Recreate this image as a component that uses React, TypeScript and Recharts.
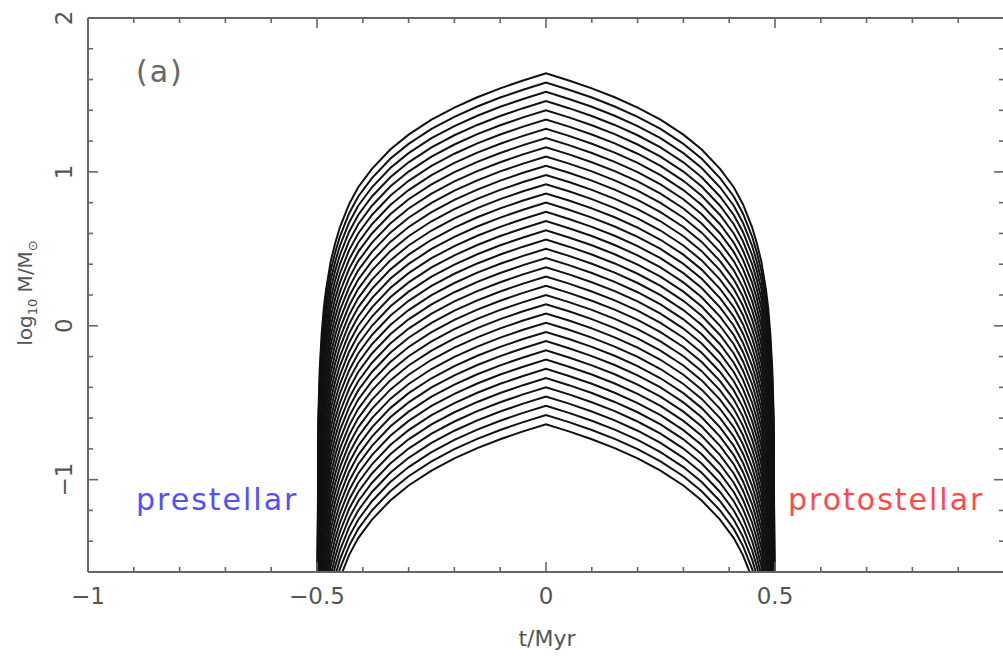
import React from "react";
import { LineChart, Line, XAxis, YAxis } from "recharts";

// peak log10 mass (at t = 0) of each track, top to bottom
const peaks = [
  1.64, 1.58, 1.52, 1.46, 1.4, 1.34, 1.28, 1.22, 1.16, 1.1,
  1.04, 0.98, 0.92, 0.86, 0.8, 0.74, 0.68, 0.62, 0.56, 0.5,
  0.44, 0.38, 0.32, 0.26, 0.2, 0.14, 0.08, 0.02, -0.04, -0.1,
  -0.16, -0.22, -0.28, -0.34, -0.4, -0.46, -0.52, -0.58, -0.64,
];

// |t| in Myr and the drop of log10 M below the peak at that time
const profileT = [
  0, 0.05, 0.1, 0.15, 0.2, 0.25, 0.3, 0.34, 0.38, 0.41,
  0.43, 0.45, 0.46, 0.47, 0.48, 0.485, 0.49, 0.494, 0.497, 0.5,
];
const profileDrop = [
  0, -0.046, -0.097, -0.155, -0.222, -0.301, -0.398, -0.495, -0.62, -0.74,
  -0.85, -1.0, -1.1, -1.22, -1.4, -1.52, -1.7, -1.92, -2.22, -4.0,
];

const xTicks = [
  -1, -0.9, -0.8, -0.7, -0.6, -0.5, -0.4, -0.3, -0.2, -0.1,
  0, 0.1, 0.2, 0.3, 0.4, 0.5, 0.6, 0.7, 0.8, 0.9, 1,
];
const xLabels = [-1, -0.5, 0, 0.5];
const yTicks = [
  -1.6, -1.4, -1.2, -1, -0.8, -0.6, -0.4, -0.2, 0,
  0.2, 0.4, 0.6, 0.8, 1, 1.2, 1.4, 1.6, 1.8, 2,
];

// mirror the profile to cover -0.5 .. 0.5
const rows: { t: number; drop: number }[] = [];
for (let i = profileT.length - 1; i > 0; i--) rows.push({ t: -profileT[i], drop: profileDrop[i] });
for (let i = 0; i < profileT.length; i++) rows.push({ t: profileT[i], drop: profileDrop[i] });

const data = rows.map((r) => {
  const row: Record<string, number> = { t: r.t };
  peaks.forEach((p, k) => {
    row["m" + k] = p + r.drop;
  });
  return row;
});

const AXIS = "#666";
const TEXT = "#555";
const FONT = "'DejaVu Sans', sans-serif";

const fmt = (v: number) => (v < 0 ? "\u2212" + String(-v) : String(v));
const isStep = (v: number, step: number) =>
  Math.abs(v / step - Math.round(v / step)) < 1e-6;

function BottomTick(props: any) {
  const { x, y, payload } = props;
  const v = payload.value;
  const major = isStep(v, 0.5);
  const labelled = xLabels.some((l) => Math.abs(l - v) < 1e-6);
  return (
    <g>
      <line x1={x} x2={x} y1={y} y2={y - (major ? 10 : 5)} stroke={AXIS} strokeWidth={1.6} />
      {labelled && (
        <text x={x} y={y + 32} textAnchor="middle" fontSize={23} fill={TEXT} fontFamily={FONT}>
          {fmt(v)}
        </text>
      )}
    </g>
  );
}

function TopTick(props: any) {
  const { x, y, payload } = props;
  const major = isStep(payload.value, 0.5);
  return <line x1={x} x2={x} y1={y} y2={y + (major ? 10 : 5)} stroke={AXIS} strokeWidth={1.6} />;
}

function LeftTick(props: any) {
  const { x, y, payload } = props;
  const v = payload.value;
  const major = isStep(v, 1);
  return (
    <g>
      <line x1={x} x2={x + (major ? 10 : 5)} y1={y} y2={y} stroke={AXIS} strokeWidth={1.6} />
      {major && (
        <text
          x={x - 16}
          y={y}
          transform={`rotate(-90, ${x - 16}, ${y})`}
          textAnchor="middle"
          fontSize={23}
          fill={TEXT}
          fontFamily={FONT}
        >
          {fmt(v)}
        </text>
      )}
    </g>
  );
}

function RightTick(props: any) {
  const { x, y, payload } = props;
  const major = isStep(payload.value, 1);
  return <line x1={x} x2={x - (major ? 10 : 5)} y1={y} y2={y} stroke={AXIS} strokeWidth={1.6} />;
}

export default function App() {
  return (
    <div
      style={{
        position: "fixed",
        left: 0,
        top: 0,
        width: 1003,
        height: 659,
        overflow: "hidden",
        background: "#fff",
      }}
    >
      <LineChart width={1010} height={659} data={data} margin={{ top: 17, right: 5, bottom: 27, left: 28 }}>
        <XAxis
          dataKey="t"
          type="number"
          domain={[-1, 1]}
          ticks={xTicks}
          interval={0}
          height={60}
          tickSize={0}
          tickMargin={0}
          tickLine={false}
          tick={<BottomTick />}
          axisLine={{ stroke: AXIS, strokeWidth: 2 }}
          allowDataOverflow
        />
        <XAxis
          xAxisId="top"
          dataKey="t"
          orientation="top"
          type="number"
          domain={[-1, 1]}
          ticks={xTicks}
          interval={0}
          height={1}
          tickSize={0}
          tickMargin={0}
          tickLine={false}
          tick={<TopTick />}
          axisLine={{ stroke: AXIS, strokeWidth: 2 }}
          allowDataOverflow
        />
        <YAxis
          type="number"
          domain={[-1.6, 2]}
          ticks={yTicks}
          interval={0}
          width={60}
          tickSize={0}
          tickMargin={0}
          tickLine={false}
          tick={<LeftTick />}
          axisLine={{ stroke: AXIS, strokeWidth: 2 }}
          allowDataOverflow
        />
        <YAxis
          yAxisId="right"
          orientation="right"
          type="number"
          domain={[-1.6, 2]}
          ticks={yTicks}
          interval={0}
          width={1}
          tickSize={0}
          tickMargin={0}
          tickLine={false}
          tick={<RightTick />}
          axisLine={{ stroke: AXIS, strokeWidth: 2 }}
          allowDataOverflow
        />
        {peaks.map((_, k) => (
          <Line
            key={k}
            dataKey={"m" + k}
            type="linear"
            stroke="#111"
            strokeWidth={2}
            dot={false}
            activeDot={false}
            isAnimationActive={false}
          />
        ))}
      </LineChart>
      <svg
        width={1003}
        height={659}
        style={{ position: "absolute", left: 0, top: 0, pointerEvents: "none" }}
        fontFamily={FONT}
      >
        <text x={136} y={82} fontSize={30} fill="#666" letterSpacing={2}>
          (a)
        </text>
        <text x={136} y={510} fontSize={30} fill="#5050ff" letterSpacing={2}>
          prestellar
        </text>
        <text x={788} y={510} fontSize={30} fill="#ff4a4a" letterSpacing={2}>
          protostellar
        </text>
        <text x={547} y={646} fontSize={22} fill={TEXT} textAnchor="middle">
          t/Myr
        </text>
        <text x={32} y={293} fontSize={20} fill={TEXT} textAnchor="middle" transform="rotate(-90, 32, 293)">
          log
          <tspan fontSize={13} dy={5}>
            10
          </tspan>
          <tspan dy={-5}> M/M</tspan>
          <tspan fontSize={13} dy={5}>
            {"\u2299"}
          </tspan>
        </text>
      </svg>
    </div>
  );
}
